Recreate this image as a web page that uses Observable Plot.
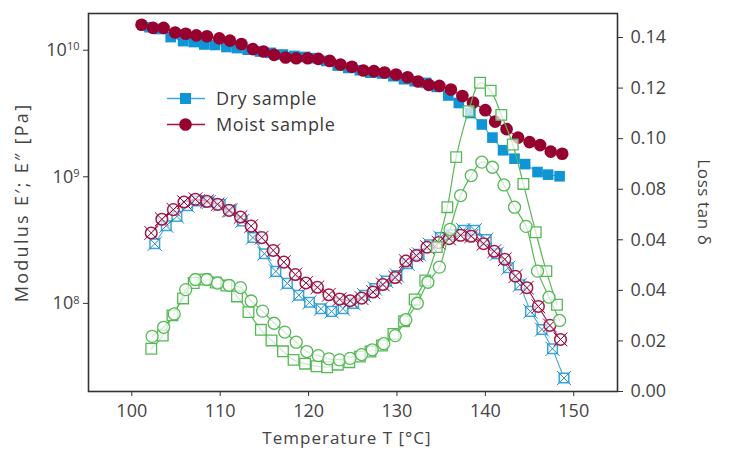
<!DOCTYPE html>
<html>
<head>
<meta charset="utf-8">
<script src="https://cdn.jsdelivr.net/npm/d3@7"></script>
<script src="https://cdn.jsdelivr.net/npm/@observablehq/plot@0.6"></script>
<style>
  body { margin: 0; background: #fff; }
  #chart { position: relative; width: 729px; height: 456px; font-family: "Open Sans", sans-serif; color: #444; }
  #chart > svg { position: absolute; left: 0; top: 0; }
  .leg { position: absolute; left: 166px; display: flex; align-items: center; font-size: 18px; letter-spacing: 0.6px; color: #3a3a3a; }
  .leg svg { margin-right: 10px; }
</style>
</head>
<body>
<div id="chart"></div>
<script>
// ---- Data ----
const xTicks = [100, 110, 120, 130, 140, 150];
const leftTicks = [1e8, 1e9, 1e10];
const leftTickExps = ["8", "9", "10"];
const rightTicks = [0, 0.02, 0.04, 0.06, 0.08, 0.10, 0.12, 0.14];
const rightTickLabels = ["0.00", "0.02", "0.04", "0.04", "0.08", "0.10", "0.12", "0.14"];

const seriesNames = ["Dry sample", "Moist sample"];

// Storage modulus E' [Pa]
const dryStorageT = [102.0,103.1,104.4,105.8,107.0,108.2,109.4,110.7,111.9,113.1,114.5,115.7,117.1,118.4,119.6,120.8,122.0,123.3,124.5,125.8,127.0,128.3,129.6,130.8,132.0,133.3,134.5,135.8,137.0,138.3,139.6,140.8,142.0,143.3,144.5,145.9,147.1,148.4];
const dryStorage = [1.52e10,1.47e10,1.27e10,1.18e10,1.16e10,1.11e10,1.10e10,1.06e10,1.04e10,1.01e10,9.77e9,9.53e9,9.25e9,9.01e9,8.85e9,8.65e9,8.23e9,7.57e9,7.24e9,6.95e9,6.64e9,6.55e9,6.23e9,5.90e9,5.69e9,5.52e9,5.13e9,4.39e9,3.83e9,3.19e9,2.59e9,2.04e9,1.62e9,1.39e9,1.26e9,1.09e9,1.04e9,1.01e9];
const moistStorageT = [101.1,102.4,103.6,104.9,106.1,107.3,108.5,109.9,111.1,112.4,113.7,114.9,116.1,117.4,118.6,119.9,121.1,122.4,123.6,124.9,126.2,127.4,128.6,129.9,131.2,132.4,133.6,134.8,136.1,137.4,138.6,140.0,141.1,142.4,143.7,145.0,146.2,147.4,148.7];
const moistStorage = [1.59e10,1.50e10,1.50e10,1.38e10,1.35e10,1.31e10,1.29e10,1.24e10,1.19e10,1.12e10,1.02e10,9.77e9,9.18e9,8.76e9,8.65e9,8.65e9,8.54e9,8.23e9,7.71e9,7.41e9,6.91e9,6.83e9,6.67e9,6.43e9,6.12e9,5.66e9,5.32e9,5.23e9,4.89e9,4.35e9,3.86e9,3.36e9,2.73e9,2.38e9,2.04e9,1.88e9,1.78e9,1.58e9,1.52e9];

// Loss modulus E'' [Pa]
const dryLossT = [102.6,103.9,105.1,106.3,107.5,108.7,110.0,111.2,112.5,113.7,115.0,116.3,117.6,118.9,120.1,121.4,122.6,123.9,125.1,126.3,127.5,128.8,130.0,131.2,132.5,133.7,134.9,136.2,137.5,138.8,140.1,141.3,142.6,143.9,145.1,146.4,147.6,148.9];
const dryLoss = [2.96e8,4.11e8,4.87e8,5.92e8,6.44e8,6.32e8,6.03e8,5.43e8,4.48e8,3.31e8,2.47e8,1.79e8,1.44e8,1.16e8,1.02e8,9.08e7,8.65e7,9.08e7,1.00e8,1.16e8,1.31e8,1.50e8,1.66e8,2.06e8,2.44e8,2.91e8,3.31e8,3.49e8,3.78e8,3.78e8,3.19e8,2.47e8,1.91e8,1.40e8,8.65e7,6.22e7,4.38e7,2.57e7];
const moistLossT = [102.2,103.4,104.7,105.9,107.2,108.5,109.7,111.0,112.3,113.5,114.7,116.0,117.2,118.5,119.7,121.0,122.3,123.5,124.7,126.0,127.3,128.4,129.8,131.0,132.2,133.4,134.7,135.9,137.2,138.4,139.8,141.0,142.2,143.4,144.7,146.0,147.3,148.5];
const moistLoss = [3.60e8,4.62e8,5.50e8,6.32e8,6.64e8,6.40e8,6.06e8,5.43e8,4.81e8,4.08e8,3.31e8,2.62e8,2.12e8,1.69e8,1.45e8,1.34e8,1.17e8,1.08e8,1.05e8,1.10e8,1.23e8,1.41e8,1.60e8,2.16e8,2.39e8,2.78e8,3.02e8,3.25e8,3.45e8,3.39e8,2.96e8,2.58e8,2.23e8,1.64e8,1.33e8,9.46e7,6.70e7,5.19e7];

// Loss factor tan delta
const dryTanT = [102.2,103.5,104.6,105.8,107.0,108.3,109.5,110.7,111.9,113.2,114.6,115.8,117.1,118.3,119.6,120.9,122.1,123.3,124.6,125.8,127.0,128.3,129.6,130.8,132.0,133.2,134.5,135.7,136.7,138.1,139.4,140.6,141.8,143.1,144.3,145.7,146.9,148.1];
const dryTan = [0.0169,0.0221,0.0301,0.0368,0.0429,0.0443,0.0431,0.0419,0.0376,0.0314,0.0244,0.0202,0.0159,0.0125,0.0110,0.0100,0.0096,0.0106,0.0116,0.0138,0.0158,0.0182,0.0228,0.0278,0.0364,0.0439,0.0571,0.0729,0.0927,0.1109,0.1221,0.1190,0.1094,0.0977,0.0821,0.0630,0.0476,0.0343];
const moistTanT = [102.3,103.6,104.8,106.1,107.2,108.5,109.7,111.0,112.3,113.5,114.8,116.1,117.3,118.6,119.8,121.1,122.3,123.5,124.7,126.0,127.2,128.5,129.8,131.0,132.3,133.5,134.8,136.0,137.2,138.4,139.6,140.8,142.1,143.3,144.6,145.9,147.2,148.4];
const moistTan = [0.0218,0.0254,0.0307,0.0403,0.0443,0.0443,0.0429,0.0420,0.0411,0.0358,0.0318,0.0270,0.0235,0.0195,0.0158,0.0142,0.0129,0.0125,0.0131,0.0146,0.0165,0.0189,0.0221,0.0284,0.0349,0.0432,0.0492,0.0641,0.0775,0.0854,0.0907,0.0887,0.0817,0.0729,0.0653,0.0476,0.0373,0.0281];

// ---- Styling ----
const blue = "#0e95d7", blueLine = "#3fa7df", blueOpen = "#3aa6df";
const red = "#97002f", redLine = "#a0123f", redOpen = "#a8174a";
const green = "#55b955";
const font = "'Open Sans', sans-serif";

const zip = (ts, vs) => ts.map((T, i) => ({T, v: vs[i]}));
const dryE1 = zip(dryStorageT, dryStorage), moistE1 = zip(moistStorageT, moistStorage);
const dryE2 = zip(dryLossT, dryLoss), moistE2 = zip(moistLossT, moistLoss);
const dryTd = zip(dryTanT, dryTan), moistTd = zip(moistTanT, moistTan);

const W = 729, H = 456;
const margins = {marginLeft: 88, marginRight: 112, marginTop: 13, marginBottom: 65};
const xDomain = [95.1, 154.95];
const leftDomain = [Math.pow(10, 7.304), Math.pow(10, 10.29)];
const rightDomain = [0, 0.1495];

const expMap = new Map(leftTicks.map((t, i) => [t, leftTickExps[i]]));
const rightMap = new Map(rightTicks.map((t, i) => [t, rightTickLabels[i]]));

const baseStyle = {fontFamily: font, fontSize: "18px", color: "#444", background: "transparent", overflow: "visible"};

const p1 = Plot.plot({
  width: W, height: H, ...margins,
  style: baseStyle,
  x: {domain: xDomain, axis: null},
  y: {type: "log", domain: leftDomain, axis: null},
  marks: [
    Plot.axisX({ticks: xTicks, tickSize: 5, tickPadding: 8, tickFormat: d => String(d), label: null, stroke: "#333"}),
    Plot.axisY({ticks: leftTicks, tickSize: 5, tickPadding: 4, tickFormat: d => "10" + expMap.get(d), label: null, stroke: "#333"}),
    Plot.text(["Temperature T [°C]"], {frameAnchor: "bottom", dy: 52, dx: -6, fontSize: 17, fill: "#444", textAnchor: "middle", className: "ttl-x"}),
    Plot.text(["Modulus E′; E″ [Pa]"], {frameAnchor: "left", rotate: -90, dx: -66, fontSize: 18, fill: "#444", textAnchor: "middle", className: "ttl-y"}),
    // E'' (open, crossed)
    Plot.line(dryE2, {x: "T", y: "v", stroke: blueLine, strokeWidth: 1.1}),
    Plot.dot(dryE2, {x: "T", y: "v", symbol: "square", r: 5.4, fill: "white", stroke: blueOpen, strokeWidth: 1.5}),
    Plot.dot(dryE2, {x: "T", y: "v", symbol: "times", r: 6.5, stroke: "#1a8ccc", strokeWidth: 1}),
    Plot.line(moistE2, {x: "T", y: "v", stroke: redLine, strokeWidth: 1.1}),
    Plot.dot(moistE2, {x: "T", y: "v", symbol: "circle", r: 5.8, fill: "white", fillOpacity: 0.6, stroke: redOpen, strokeWidth: 1.5}),
    Plot.dot(moistE2, {x: "T", y: "v", symbol: "times", r: 6.3, stroke: "#8e0a36", strokeWidth: 1}),
    // E' (filled)
    Plot.line(dryE1, {x: "T", y: "v", stroke: blueLine, strokeWidth: 1.1}),
    Plot.dot(dryE1, {x: "T", y: "v", symbol: "square", r: 6, fill: blue, stroke: "none"}),
    Plot.line(moistE1, {x: "T", y: "v", stroke: redLine, strokeWidth: 1.1}),
    Plot.dot(moistE1, {x: "T", y: "v", symbol: "circle", r: 6.3, fill: red, stroke: "none"}),
    Plot.frame({stroke: "#333", strokeWidth: 1.6})
  ]
});

const p2 = Plot.plot({
  width: W, height: H, ...margins,
  style: baseStyle,
  x: {domain: xDomain, axis: null},
  y: {domain: rightDomain, axis: null},
  marks: [
    Plot.axisY({anchor: "right", ticks: rightTicks, tickSize: 5, tickPadding: 8, tickFormat: d => rightMap.get(d), label: null, stroke: "#333"}),
    Plot.text(["Loss tan δ"], {frameAnchor: "right", rotate: 90, dx: 86, fontSize: 17, fill: "#444", textAnchor: "middle", className: "ttl-r"}),
    Plot.line(dryTd, {x: "T", y: "v", stroke: green, strokeWidth: 1.2, curve: "catmull-rom"}),
    Plot.line(moistTd, {x: "T", y: "v", stroke: green, strokeWidth: 1.2, curve: "catmull-rom"}),
    Plot.dot(dryTd, {x: "T", y: "v", symbol: "square", r: 6, fill: "white", fillOpacity: 0.7, stroke: green, strokeWidth: 1.3}),
    Plot.dot(moistTd, {x: "T", y: "v", symbol: "circle", r: 6, fill: "white", fillOpacity: 0.7, stroke: green, strokeWidth: 1.3})
  ]
});

const chart = document.getElementById("chart");
chart.appendChild(p1);
chart.appendChild(p2);

// wider letter spacing on the axis titles (the reference font is a wide geometric sans)
p1.querySelectorAll(".ttl-x text").forEach(t => t.setAttribute("letter-spacing", "1"));
p1.querySelectorAll(".ttl-y text").forEach(t => t.setAttribute("letter-spacing", "2.3"));
p2.querySelectorAll(".ttl-r text").forEach(t => t.setAttribute("letter-spacing", "0.6"));

// superscript exponents on the log axis labels
p1.querySelectorAll('g[aria-label="y-axis tick label"] text').forEach(t => {
  const s = t.textContent;
  const exp = s.slice(2);
  t.textContent = "";
  const ns = "http://www.w3.org/2000/svg";
  const a = document.createElementNS(ns, "tspan"); a.textContent = "10";
  const b = document.createElementNS(ns, "tspan"); b.textContent = exp;
  b.setAttribute("dy", "-0.5em"); b.setAttribute("font-size", "11");
  t.appendChild(a); t.appendChild(b);
});

// legend
const legendItems = [
  {name: seriesNames[0], color: blue, line: blueLine, sym: "square"},
  {name: seriesNames[1], color: red, line: redLine, sym: "circle"}
];
const legendTops = [86, 112];
legendItems.forEach((it, i) => {
  const d = document.createElement("div");
  d.className = "leg";
  d.style.top = legendTops[i] + "px";
  const marker = it.sym === "square"
    ? `<rect x="14" y="2" width="11" height="11" fill="${it.color}"/>`
    : `<circle cx="19.5" cy="7.5" r="6.3" fill="${it.color}"/>`;
  d.innerHTML = `<svg width="40" height="15"><line x1="1" x2="39" y1="7.5" y2="7.5" stroke="${it.line}" stroke-width="1.3"/>${marker}</svg><span>${it.name}</span>`;
  chart.appendChild(d);
});
</script>
</body>
</html>
